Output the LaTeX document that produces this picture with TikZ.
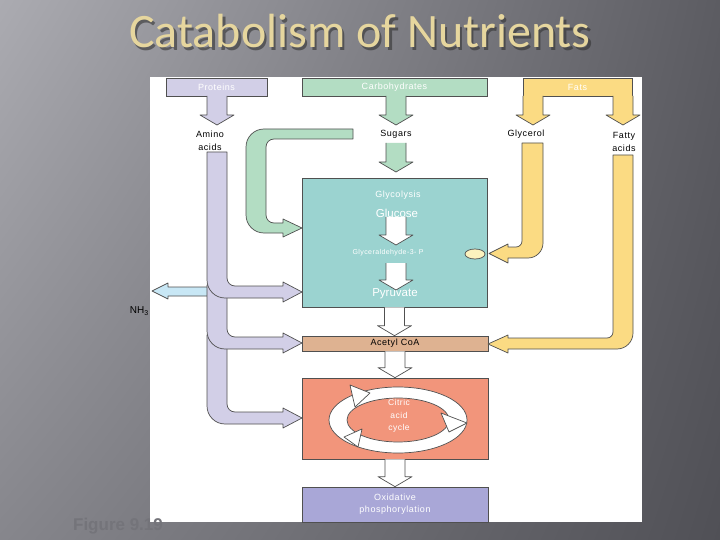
\documentclass[tikz,border=0pt]{standalone}
\usepackage{fontspec}
\setmainfont{Liberation Sans}
\newfontfamily\labf[LetterSpace=6]{Liberation Sans}
\newfontfamily\titlef{Carlito}
\usetikzlibrary{calc,shapes.geometric,shadings}
\definecolor{bgUL}{HTML}{ABABB1}
\definecolor{bgUR}{HTML}{5C5C62}
\definecolor{bgLL}{HTML}{86868C}
\definecolor{bgLR}{HTML}{505056}
\definecolor{titc}{HTML}{E6D69E}
\definecolor{protc}{HTML}{D2CFE7}
\definecolor{carbc}{HTML}{B3DDC3}
\definecolor{fatc}{HTML}{FBDB83}
\definecolor{glyc}{HTML}{9BD3D0}
\definecolor{acec}{HTML}{DEB291}
\definecolor{citc}{HTML}{F2957B}
\definecolor{oxc}{HTML}{A9A7D7}
\definecolor{nhc}{HTML}{C8E7F5}
\definecolor{edge}{HTML}{505050}
\definecolor{yelc}{HTML}{FCF2BE}
\definecolor{figc}{HTML}{74747A}
\tikzset{
 blk/.style={draw=edge, line width=0.7pt, line join=round},
 box/.style={draw=edge, line width=0.7pt, inner sep=0pt, text=white, align=center, font=\labf\fontsize{9}{12}\selectfont},
 lab/.style={inner sep=0pt, align=center, font=\labf\fontsize{9}{12.5}\selectfont},
 big/.style={inner sep=0pt, text=white, font=\fontsize{11.5}{12}\selectfont},
 titlestyle/.style={anchor=base, inner sep=0pt, font=\titlef\fontsize{48}{50}\selectfont},
}
\newcommand\bdown[3]{%
 \draw[blk,fill=#1] let \p1=#2, \p2=#3 in
 (\x1-10pt,\y1) -- (\x1-10pt,\y2+10pt) -- (\x1-17pt,\y2+10pt) -- (\x1,\y2) -- (\x1+17pt,\y2+10pt) -- (\x1+10pt,\y2+10pt) -- (\x1+10pt,\y1);}
\begin{document}
\begin{tikzpicture}[x=1pt,y=-1pt]
\useasboundingbox (0,0) rectangle (720,540);
\shade[upper left=bgUL, upper right=bgUR, lower left=bgLL, lower right=bgLR] (0,0) rectangle (720,540);
% title
\node[titlestyle, text=black!80, opacity=0.6] (titleshadow) at (362.5,50.5) {Catabolism of Nutrients};
\node[titlestyle, text=titc] (title) at (360,48) {Catabolism of Nutrients};
% panel
\fill[white] (150,77) rectangle (642,522);
% source boxes
\node[box, fill=protc, minimum width=101pt, minimum height=18pt] (prot) at (216.5,87) {Proteins};
\node[box, fill=carbc, minimum width=185pt, minimum height=18pt] (carb) at (394.5,87) {Carbohydrates};
\node[box, fill=fatc, minimum width=109pt, minimum height=18pt] (fats) at (577.5,87) {Fats};
% labels
\node[lab] (amino) at (210,141) {Amino\\acids};
\node[lab] (sugars) at (396,134) {Sugars};
\node[lab] (glycerol) at (526,134) {Glycerol};
\node[lab] (fatty) at (624,142) {Fatty\\acids};
% process boxes
\node[box, fill=glyc, minimum width=185pt, minimum height=129pt] (glyb) at (394.5,242.5) {};
\node[box, fill=acec, text=black, minimum width=186pt, minimum height=15pt] (acet) at (395,343.5) {Acetyl CoA};
\node[box, fill=citc, minimum width=186pt, minimum height=81pt] (cit) at (395,418.5) {};
\node[box, fill=oxc, minimum width=186pt, minimum height=35pt] (oxid) at (395,504.5) {Oxidative\\phosphorylation};
% glycolysis contents
\node[lab, text=white] (glycol) at (398,195) {Glycolysis};
\node[big] (glucose) at (397,213) {Glucose};
\node[lab, text=white, font=\labf\fontsize{7}{8}\selectfont] (g3p) at (388,253) {Glyceraldehyde-3- P};
\node[big] (pyr) at (395,294) {Pyruvate};
\node[draw=edge, line width=0.7pt, fill=yelc, ellipse, minimum width=20pt, minimum height=10pt, inner sep=0pt] (yel) at (475,254) {};
% coordinates
\coordinate (protTip) at (217,125);
\coordinate (carbS) at (396,96);
\coordinate (carbTip) at (396,125);
\coordinate (sugS) at (396,143);
\coordinate (sugTip) at (396,172);
\coordinate (glyS) at (533,96);
\coordinate (glyTip) at (533,125);
\coordinate (fatS) at (623,96);
\coordinate (fatTip) at (623,125);
% straight block arrows
\bdown{protc}{(217,96)}{(protTip)}
\bdown{carbc}{(carbS)}{(carbTip)}
\bdown{carbc}{(sugS)}{(sugTip)}
\bdown{fatc}{(glyS)}{(glyTip)}
\bdown{fatc}{(fatS)}{(fatTip)}
\bdown{white}{(396,217)}{(396,245)}
\bdown{white}{(396,263)}{(396,290)}
\bdown{white}{(glyb.south)}{(acet.north)}
\bdown{white}{(acet.south)}{(cit.north)}
\bdown{white}{(cit.south)}{(oxid.north)}
% green curved arrow
\draw[blk, fill=carbc] (353,129) -- (264,129) arc[start angle=270, end angle=180, radius=18] -- (246,215) arc[start angle=180, end angle=90, radius=18] -- (283,233) -- (283,237) -- (302,228) -- (283,219) -- (283,223) -- (274,223) arc[start angle=90, end angle=180, radius=8] -- (266,147) arc[start angle=180, end angle=270, radius=8] -- (353,139) -- cycle;
% glycerol curved arrow
\draw[blk, fill=fatc] (522,143) -- (543,143) -- (543,243) arc[start angle=0, end angle=90, radius=15] -- (508,258) -- (508,263) -- (489,253.5) -- (508,244) -- (508,247) -- (516,247) arc[start angle=90, end angle=0, radius=6] -- cycle;
% fatty acid curved arrow
\draw[blk, fill=fatc] (613,155) -- (633,155) -- (633,333) arc[start angle=0, end angle=90, radius=16] -- (508,349) -- (508,353) -- (488,344) -- (508,335) -- (508,338) -- (607,338) arc[start angle=90, end angle=0, radius=6] -- cycle;
% NH3 arrow
\draw[blk, fill=nhc] (215,287) -- (168,287) -- (168,283) -- (152,291) -- (168,299) -- (168,296) -- (215,296);
\node[inner sep=0pt, font=\fontsize{10}{12}\selectfont] (nh3) at (139,311) {NH\raisebox{-2.5pt}{\fontsize{7}{7}\selectfont 3}};
% purple trunk segments
\draw[blk, fill=protc] (207,335) -- (207,406) arc[start angle=180, end angle=90, radius=18] -- (283,424) -- (283,428) -- (302,418) -- (283,408) -- (283,412) -- (235,412) arc[start angle=90, end angle=180, radius=8] -- (227,335) -- cycle;
\draw[blk, fill=protc] (207,285) -- (207,331) arc[start angle=180, end angle=90, radius=18] -- (283,349) -- (283,353) -- (302,343) -- (283,333) -- (283,337) -- (235,337) arc[start angle=90, end angle=180, radius=8] -- (227,285) -- cycle;
\draw[blk, fill=protc] (207,152) -- (207,280) arc[start angle=180, end angle=90, radius=18] -- (283,298) -- (283,302) -- (302,292) -- (283,282) -- (283,286) -- (235,286) arc[start angle=90, end angle=180, radius=8] -- (227,152) -- cycle;
% citric acid cycle ring
\path[fill=white, draw=edge, line width=0.7pt, even odd rule] (398,420) ellipse [x radius=69pt, y radius=33pt] (398,420) ellipse [x radius=51pt, y radius=22pt];
\draw[blk, fill=white] (350,385) -- (370,393) -- (355,407) -- cycle;
\draw[blk, fill=white] (441,413) -- (467,423) -- (449,432) -- cycle;
\draw[blk, fill=white] (362,429) -- (344,437) -- (358,447) -- cycle;
\node[lab, text=white, font=\labf\fontsize{8.5}{12.5}\selectfont] (cittxt) at (399,416) {Citric\\acid\\cycle};
% figure label
\node[inner sep=0pt, text=figc, font=\bfseries\fontsize{17}{17}\selectfont] (fig) at (118,526) {Figure 9.19};
\end{tikzpicture}
\end{document}
